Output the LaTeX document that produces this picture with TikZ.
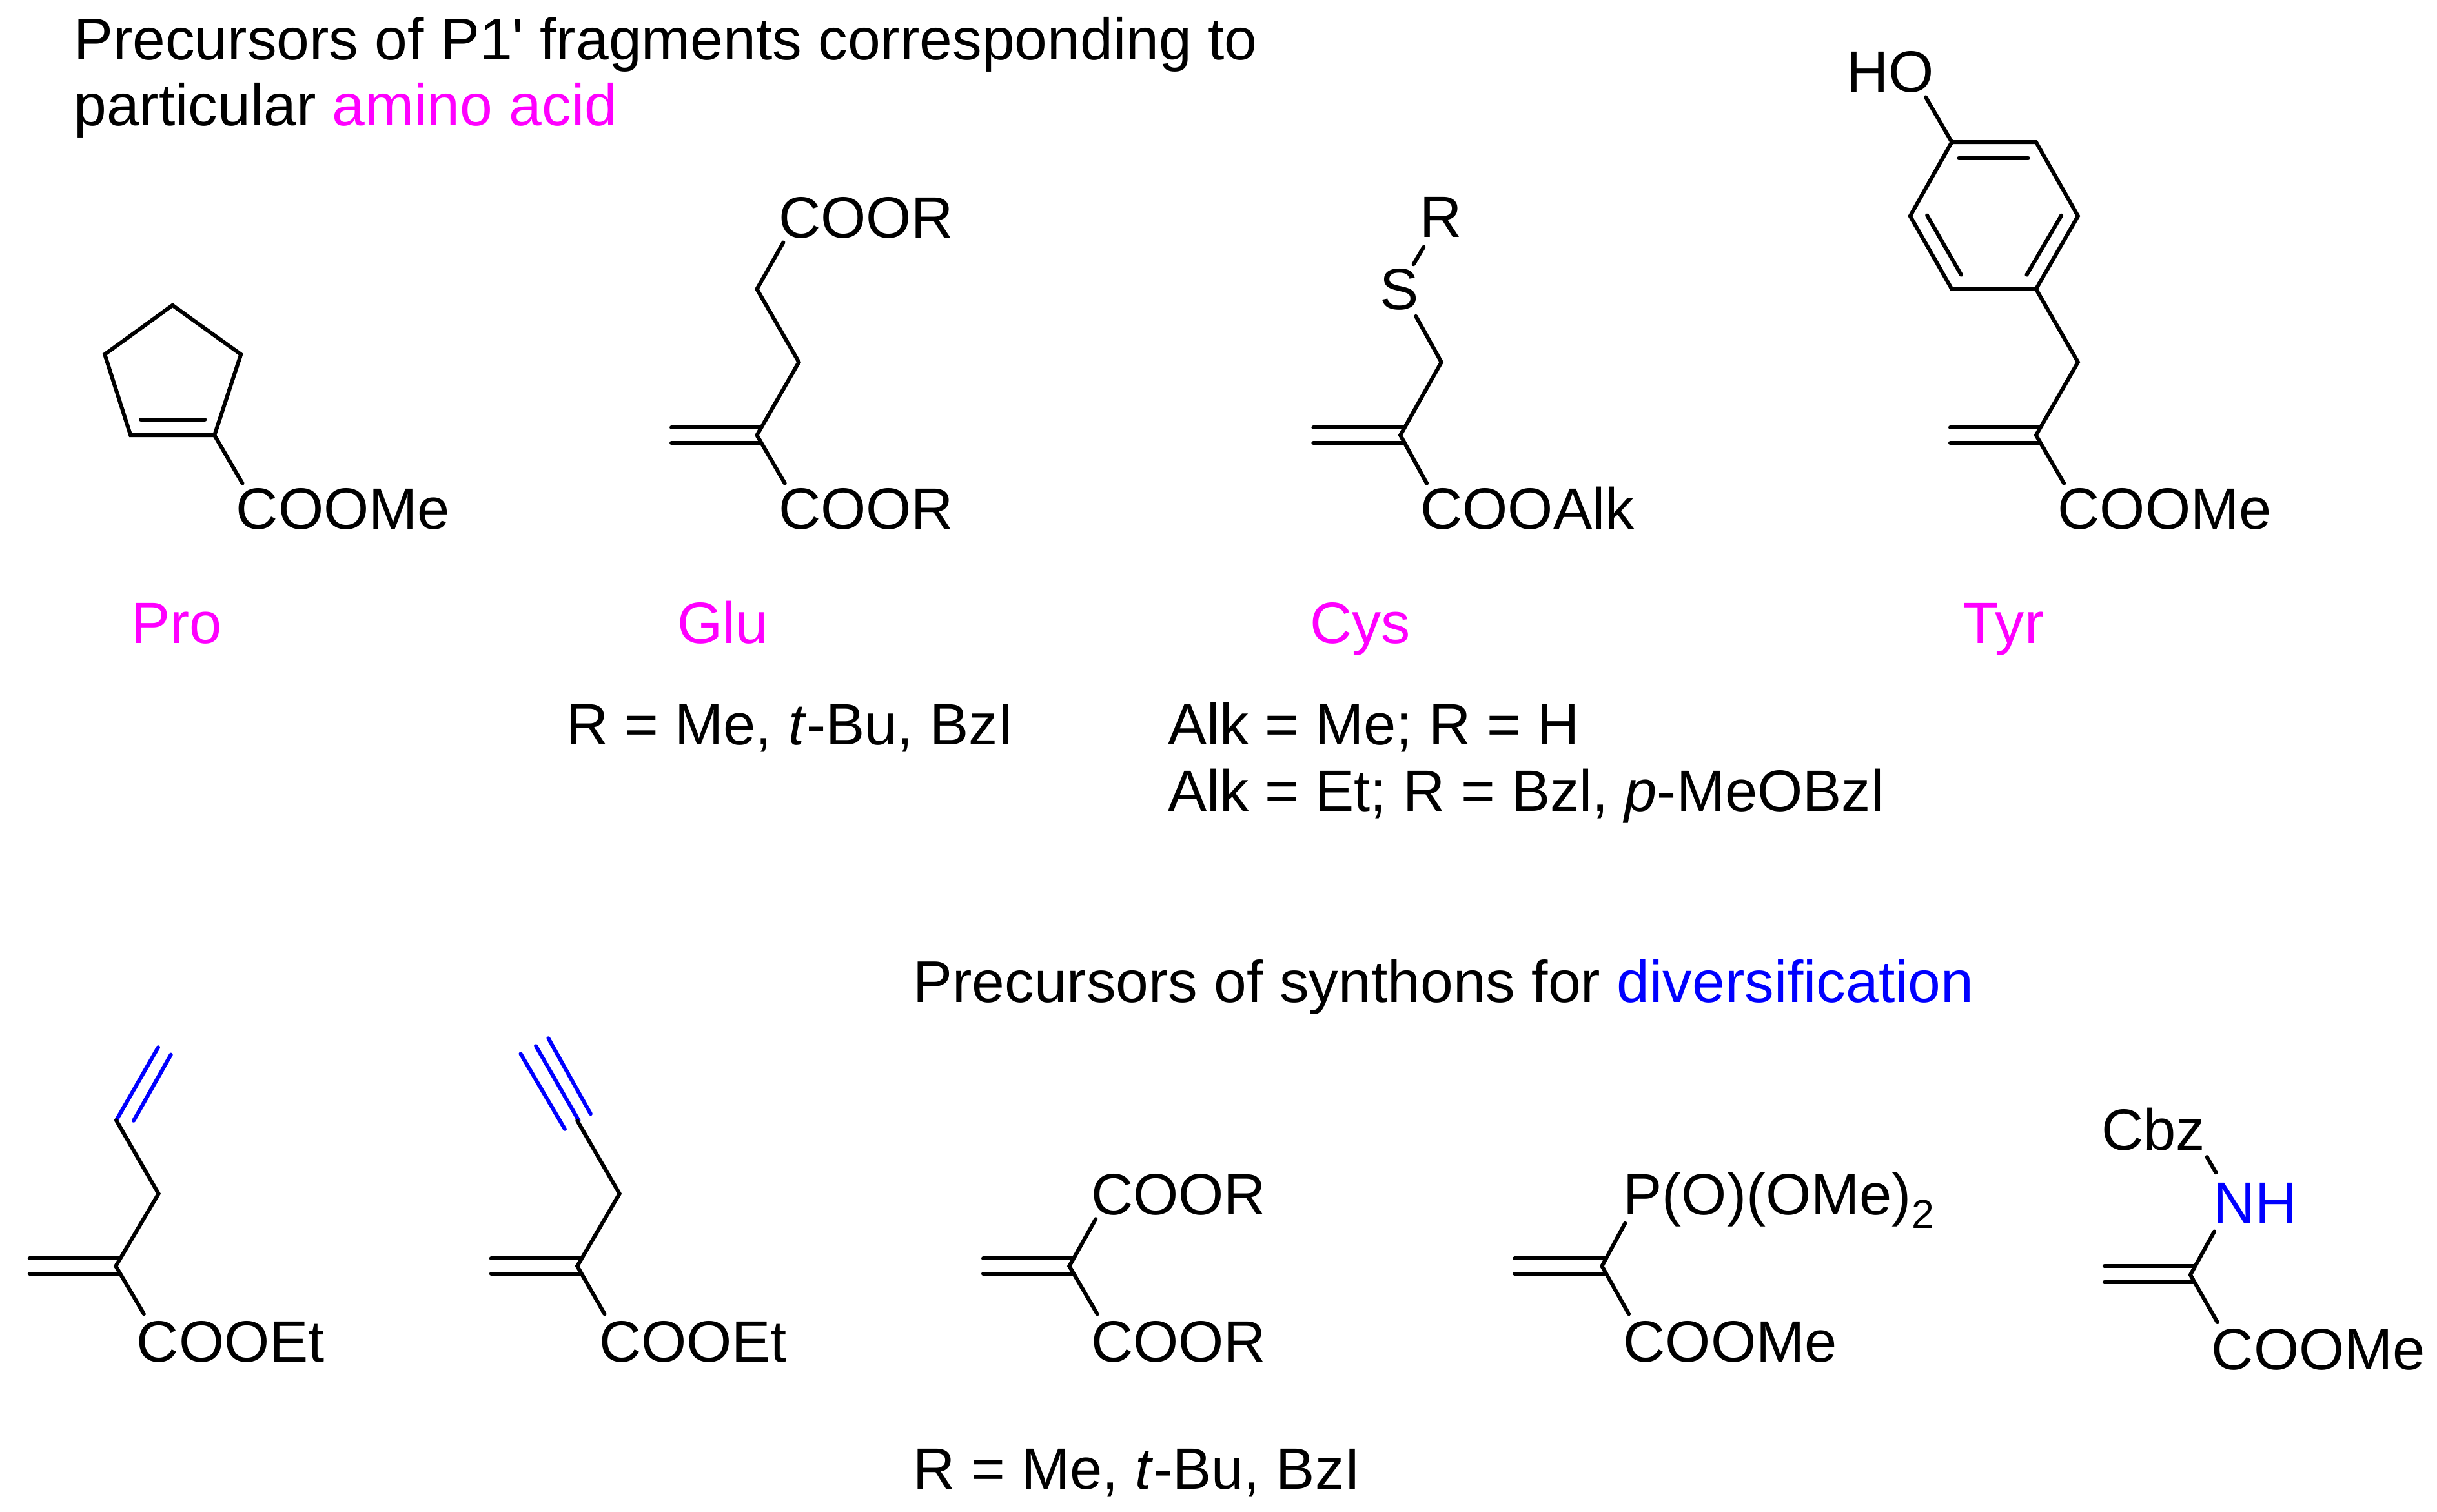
\documentclass[tikz,border=0pt]{standalone}
\usepackage{fontspec}
\setmainfont{Liberation Sans}
\newfontfamily\plainfam{Liberation Sans}
\definecolor{mag}{HTML}{FF00FF}
\definecolor{blu}{HTML}{0000FF}
\tikzset{
  x=0.5pt,y=-0.5pt,
  lab/.style={anchor=base west,inner sep=0pt,outer sep=0pt,font=\fontsize{18.75}{22}\selectfont},
  headlab/.style={lab,font=\fontsize{18.95}{22}\selectfont},
  maglab/.style={lab,text=mag},
  blulab/.style={lab,text=blu},
  bond/.style={draw=black,line width=1.25pt,line join=miter,line cap=round},
  blubond/.style={draw=blu,line width=1.25pt,line join=miter,line cap=round}
}
\begin{document}
\begin{tikzpicture}
\useasboundingbox (0,0) rectangle (1568,972.4);
% headings
\node[headlab] (h1) at (47.5,38.5) {Precursors of P1{\plainfam '} fragments corresponding to};
\node[headlab] (h2) at (47.5,81) {particular \textcolor{mag}{amino acid}};
\node[headlab] (h3) at (587.5,645) {Precursors of synthons for \textcolor{blu}{diversification}};
% Pro
\draw[bond] (84,280) -- (67.4,228) -- (111,196.4) -- (155,228) -- (138,280) -- cycle;
\draw[bond] (90.6,270) -- (131.8,270);
\draw[bond] (138,280) -- (156,311);
\node[lab] (pro1) at (152,340.5) {COOMe};
\node[maglab] (pro) at (84.5,414) {Pro};
% Glu
\draw[bond] (504,156) -- (487,186) -- (514,233) -- (487,280) -- (505,311);
\draw[bond] (432,275) -- (489,275);
\draw[bond] (432,285) -- (489,285);
\node[lab] (glu1) at (501,153) {COOR};
\node[lab] (glu2) at (501,340.5) {COOR};
\node[maglab] (glu) at (436,414) {Glu};
\node[lab] (glur) at (364.5,479) {R = Me, \textit{t}-Bu, BzI};
% Cys
\node[lab] (cysr) at (913.5,152.5) {R};
\draw[bond] (916,159) -- (909.5,170);
\node[lab] (cyss) at (888,199) {S};
\draw[bond] (911,203.5) -- (927.4,233) -- (901,280) -- (918,311);
\draw[bond] (845,275) -- (902.6,275);
\draw[bond] (845,285) -- (902.6,285);
\node[lab] (cys1) at (914,340.5) {COOAlk};
\node[maglab] (cys) at (843,414) {Cys};
\node[lab] (cysa) at (751.5,479) {Alk = Me; R = H};
\node[lab] (cysb) at (751.5,522) {Alk = Et; R = Bzl, \textit{p}-MeOBzl};
% Tyr
\node[lab] (tyrho) at (1188,59) {HO};
\draw[bond] (1239,62.5) -- (1255.8,91.4);
\draw[bond] (1255.8,91.4) -- (1310,91.4) -- (1337,139) -- (1310,186) -- (1255.8,186) -- (1229,139) -- cycle;
\draw[bond] (1260.3,101.8) -- (1305,101.8);
\draw[bond] (1239.9,138.6) -- (1261.8,176.8);
\draw[bond] (1326.3,138.6) -- (1304,176.8);
\draw[bond] (1310,186) -- (1337,233) -- (1310,280) -- (1328,311);
\draw[bond] (1254.8,275) -- (1312,275);
\draw[bond] (1254.8,285) -- (1312,285);
\node[lab] (tyr1) at (1324,340.5) {COOMe};
\node[maglab] (tyr) at (1263,414) {Tyr};
% allyl
\draw[blubond] (101.8,673.8) -- (74.8,720.8);
\draw[blubond] (110,678.5) -- (86,721);
\draw[bond] (74.8,720.8) -- (102,768) -- (74.5,814.6) -- (92.6,845.4);
\draw[bond] (19,809.7) -- (76.5,809.7);
\draw[bond] (19,819.5) -- (76.5,819.5);
\node[lab] (allyl) at (88,876) {COOEt};
% propargyl
\draw[blubond] (344.8,673) -- (372.4,721);
\draw[blubond] (335,678) -- (363.4,726.4);
\draw[blubond] (352.8,668) -- (380,716.6);
\draw[bond] (371.4,721) -- (398.6,768) -- (371.4,814.6) -- (389,845.4);
\draw[bond] (316,809.7) -- (373.4,809.7);
\draw[bond] (316,819.5) -- (373.4,819.5);
\node[lab] (prop) at (385.5,876) {COOEt};
% malonate
\draw[bond] (705,784.3) -- (688,814.6) -- (706,845.4);
\draw[bond] (632.6,809.7) -- (690.5,809.7);
\draw[bond] (632.6,819.5) -- (690.5,819.5);
\node[lab] (mal1) at (702,781.5) {COOR};
\node[lab] (mal2) at (702,876) {COOR};
\node[lab] (malr) at (587.5,958) {R = Me, \textit{t}-Bu, BzI};
% phosphonate
\draw[bond] (1045.6,787) -- (1030.7,814.6) -- (1048,845.4);
\draw[bond] (974.6,809.7) -- (1032.7,809.7);
\draw[bond] (974.6,819.5) -- (1032.7,819.5);
\node[lab] (phos) at (1044.5,781.5) {P(O)(OMe)\raisebox{-4.3pt}{\fontsize{13}{15}\selectfont 2}};
\node[lab] (phos2) at (1044.5,876) {COOMe};
% Cbz
\node[lab] (cbz) at (1352,740) {Cbz};
\draw[bond] (1420,744.4) -- (1425.7,754.4);
\node[blulab] (nh) at (1424,787) {NH};
\draw[bond] (1424.7,792.3) -- (1409.3,820.2) -- (1426.7,850.7);
\draw[bond] (1354,814.6) -- (1411.3,814.6);
\draw[bond] (1354,825) -- (1411.3,825);
\node[lab] (cbz2) at (1423,881) {COOMe};
\end{tikzpicture}
\end{document}
